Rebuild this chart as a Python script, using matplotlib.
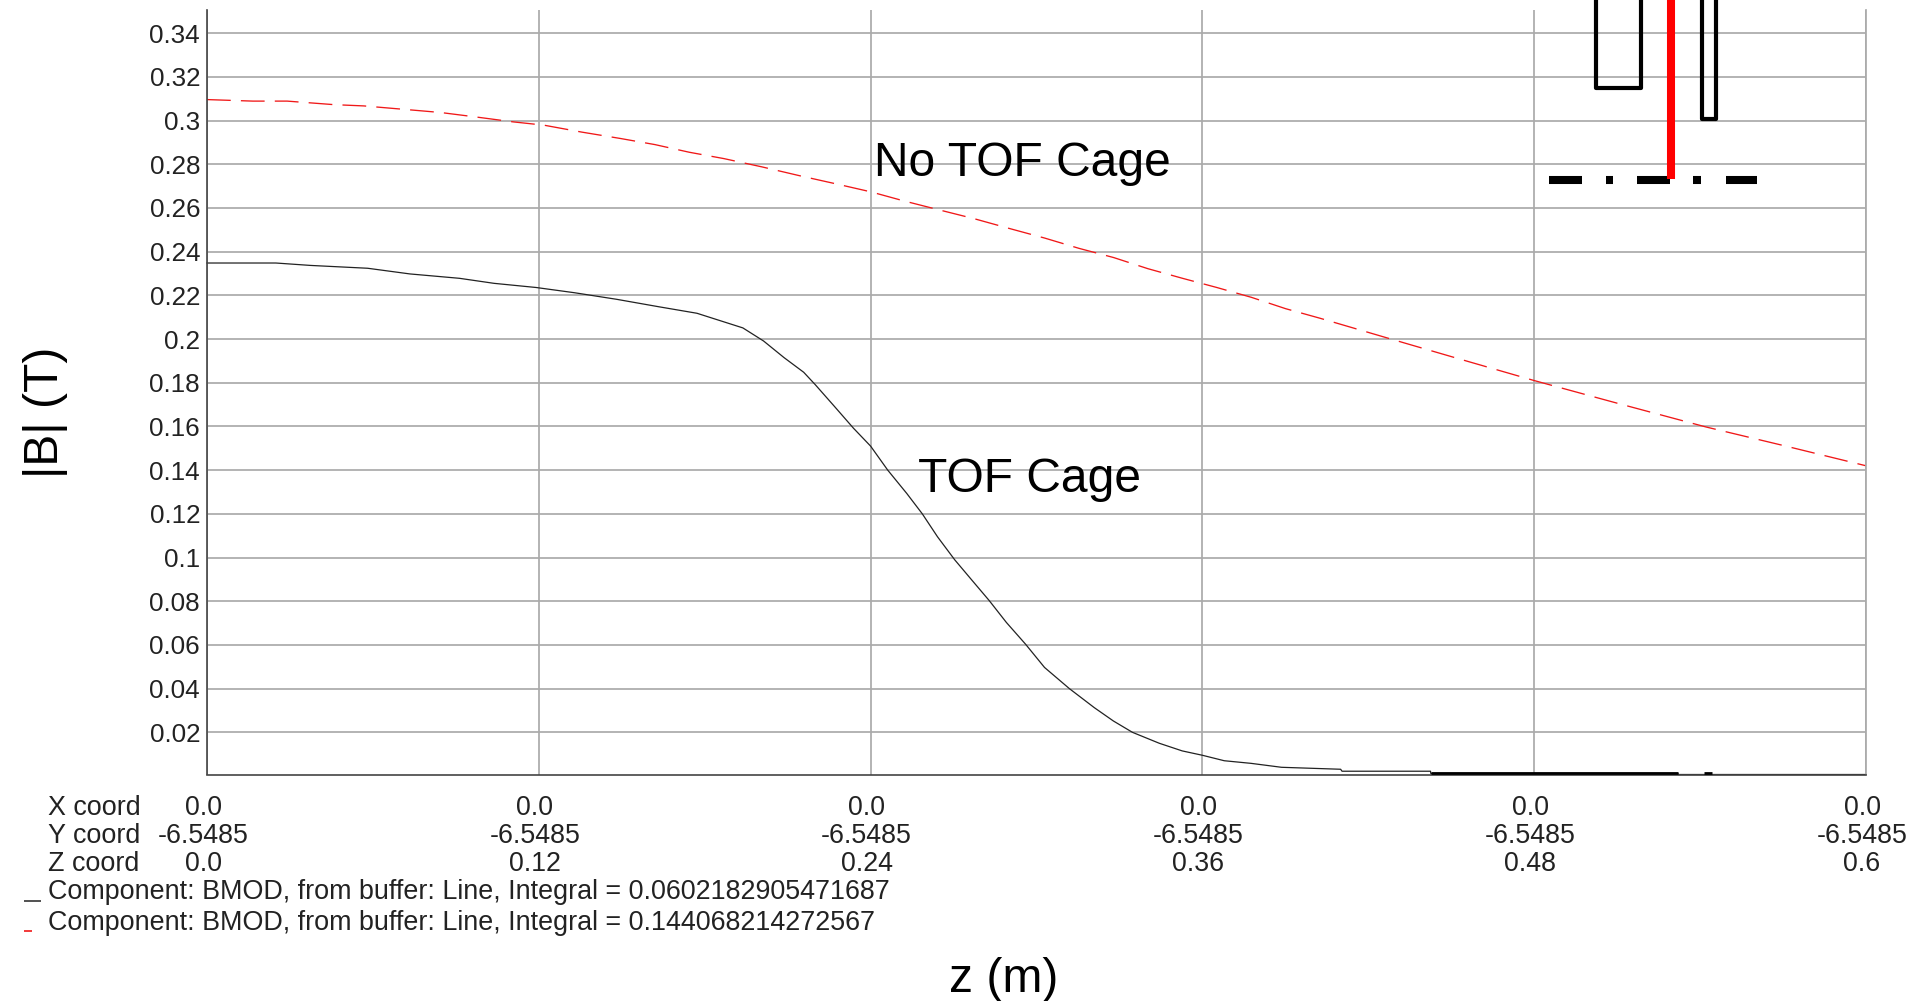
import matplotlib
matplotlib.use('Agg')
import matplotlib.pyplot as plt
from matplotlib.lines import Line2D
from matplotlib.transforms import ScaledTranslation

plt.rcParams['font.family'] = ['Liberation Sans', 'DejaVu Sans']

W, H = 1911, 1001
TEXT = '#222222'

# curves
z_black = [0, 0.0249, 0.0374, 0.0581, 0.0734, 0.0913, 0.1038, 0.119, 0.1329, 0.1481, 0.1633, 0.1772, 0.1938,
           0.2013, 0.2087, 0.2158, 0.22, 0.2269, 0.2338, 0.24, 0.2462, 0.2531, 0.2587, 0.2642, 0.2704, 0.2766,
           0.2829, 0.2891, 0.296, 0.3029, 0.3119, 0.3209, 0.3278, 0.3347, 0.3444, 0.3527, 0.36, 0.3679, 0.3776,
           0.3886, 0.41, 0.4105, 0.4425, 0.4426, 0.532, 0.5321, 0.6]
b_black = [0.2348, 0.2348, 0.2337, 0.2324, 0.2298, 0.2278, 0.2255, 0.2236, 0.2212, 0.2182, 0.2148, 0.2118, 0.2051,
           0.1991, 0.1915, 0.1848, 0.1791, 0.1692, 0.1592, 0.151, 0.14, 0.1293, 0.12, 0.1095, 0.099, 0.0897,
           0.0803, 0.0703, 0.0604, 0.0497, 0.04, 0.0313, 0.0252, 0.02, 0.015, 0.0115, 0.0095, 0.007, 0.0058,
           0.004, 0.0031, 0.0022, 0.0022, 0.0012, 0.0012, 0.0007, 0.0007]

# stretches where the black line lies on the axis and reads as a heavy bar
z_heavy = [[0.4426, 0.532], [0.5414, 0.5443]]
b_heavy = [[0.0012, 0.0012], [0.0013, 0.0013]]

z_red = [0, 0.0166, 0.029, 0.0457, 0.0567, 0.0706, 0.0844, 0.0969, 0.1107, 0.1218, 0.1356, 0.1495, 0.162, 0.1744,
         0.1869, 0.2007, 0.2145, 0.2269, 0.24, 0.2518, 0.2642, 0.2774, 0.2905, 0.303, 0.3154, 0.3279, 0.3403,
         0.3528, 0.3652, 0.3777, 0.3901, 0.4026, 0.415, 0.4282, 0.454, 0.48, 0.511, 0.542, 0.571, 0.6]
b_red = [0.3096, 0.3089, 0.3089, 0.3073, 0.3067, 0.3052, 0.3037, 0.3017, 0.2994, 0.2979, 0.2947, 0.2918, 0.289, 0.2855,
         0.2826, 0.2788, 0.2747, 0.2712, 0.2674, 0.2633, 0.2593, 0.2551, 0.2505, 0.2462, 0.2415, 0.2373, 0.2322,
         0.2278, 0.2236, 0.2191, 0.2139, 0.2095, 0.2049, 0.2, 0.1905, 0.181, 0.1703, 0.1598, 0.151, 0.142]

y_ticks = [0.02, 0.04, 0.06, 0.08, 0.1, 0.12, 0.14, 0.16, 0.18, 0.2, 0.22, 0.24, 0.26, 0.28, 0.3, 0.32, 0.34]
y_labels = ['0.02', '0.04', '0.06', '0.08', '0.1', '0.12', '0.14', '0.16', '0.18', '0.2', '0.22', '0.24',
            '0.26', '0.28', '0.3', '0.32', '0.34']
z_ticks = [0, 0.12, 0.24, 0.36, 0.48, 0.6]
x_coord = ['0.0', '0.0', '0.0', '0.0', '0.0', '0.0']
y_coord = ['-6.5485', '-6.5485', '-6.5485', '-6.5485', '-6.5485', '-6.5485']
z_coord = ['0.0', '0.12', '0.24', '0.36', '0.48', '0.6']
legend_black = 'Component: BMOD, from buffer: Line, Integral = 0.0602182905471687'
legend_red = 'Component: BMOD, from buffer: Line, Integral = 0.144068214272567'


def px(x, y):
    return x / W, 1 - y / H


def label(x, y, s, size=19.4, ha='left', **kw):
    fx, fy = px(x, y)
    fig.text(fx, fy, s, fontsize=size, ha=ha, va='center', color=kw.pop('color', TEXT), **kw)


def sketch(xs, ys, color='black', lw=3.0, cap='butt'):
    fx = [x / W for x in xs]
    fy = [1 - y / H for y in ys]
    fig.add_artist(Line2D(fx, fy, color=color, lw=lw, solid_capstyle=cap, solid_joinstyle='round'))


fig = plt.figure(figsize=(W / 100, H / 100), dpi=100)
ax = fig.add_axes([207 / W, 1 - 774.5 / H, (1866 - 207) / W, (774.5 - 10) / H])

ax.plot(z_black, b_black, color='#222222', lw=0.9, clip_on=False)
for zs, bs in zip(z_heavy, b_heavy):
    ax.plot(zs, bs, color='black', lw=2.0, clip_on=False, zorder=4, solid_capstyle='butt')
ax.plot(z_red, b_red, color='#f01818', lw=0.95, dashes=(18, 7.7))

ax.set_xlim(0, 0.6)
ax.set_ylim(0.0007, 0.3506)
ax.set_yticks(y_ticks)
ax.set_yticklabels(y_labels, fontsize=18.7, color=TEXT)
ax.set_xticks(z_ticks)
ax.set_xticklabels([f'{a}\n{b}\n{c}' for a, b, c in zip(x_coord, y_coord, z_coord)],
                   fontsize=19.3, color=TEXT, linespacing=1.1)
ax.tick_params(axis='both', length=0, pad=5)
ax.tick_params(axis='x', pad=15)
for lab in ax.get_xticklabels():
    lab.set_transform(lab.get_transform() + ScaledTranslation(-0.04, 0, fig.dpi_scale_trans))
    lab.set_clip_on(False)

ax.grid(True, color='#aaaaaa', lw=1.25)
ax.set_axisbelow(True)
ax.spines['top'].set_visible(False)
ax.spines['right'].set_color('#aaaaaa')
ax.spines['right'].set_linewidth(1.25)
ax.spines['left'].set_color('#444444')
ax.spines['left'].set_linewidth(1.2)
ax.spines['bottom'].set_color('#444444')
ax.spines['bottom'].set_linewidth(1.2)

label(48, 808, 'X coord')
label(48, 836, 'Y coord')
label(48, 864, 'Z coord')
label(48, 892, legend_black)
label(48, 923, legend_red)
sketch([24, 41], [901, 901], color='#333333', lw=1.2)
sketch([24, 32], [931, 931], color='#f01818', lw=1.2)

label(874, 164, 'No TOF Cage', size=34.6, color='black')
label(918, 480, 'TOF Cage', size=34.6, color='black')
label(949, 980, 'z (m)', size=34.6, color='black')
fx, fy = px(45, 412)
fig.text(fx, fy, '|B| (T)', fontsize=34.6, rotation=90, ha='center', va='center', color='black')

# magnet sketch in the top right corner
sketch([1596, 1596, 1641, 1641], [0, 88, 88, 0], lw=3.0)
sketch([1702, 1702, 1716, 1716], [0, 119, 119, 0], lw=3.0)
for x0, x1 in [(1549, 1582), (1606, 1613), (1637, 1670), (1693, 1701), (1726, 1757)]:
    sketch([x0, x1], [179.5, 179.5], lw=5.8)
sketch([1671, 1671], [0, 179], color='#ff0000', lw=5.8)

fig.savefig('out.png', dpi=100)
